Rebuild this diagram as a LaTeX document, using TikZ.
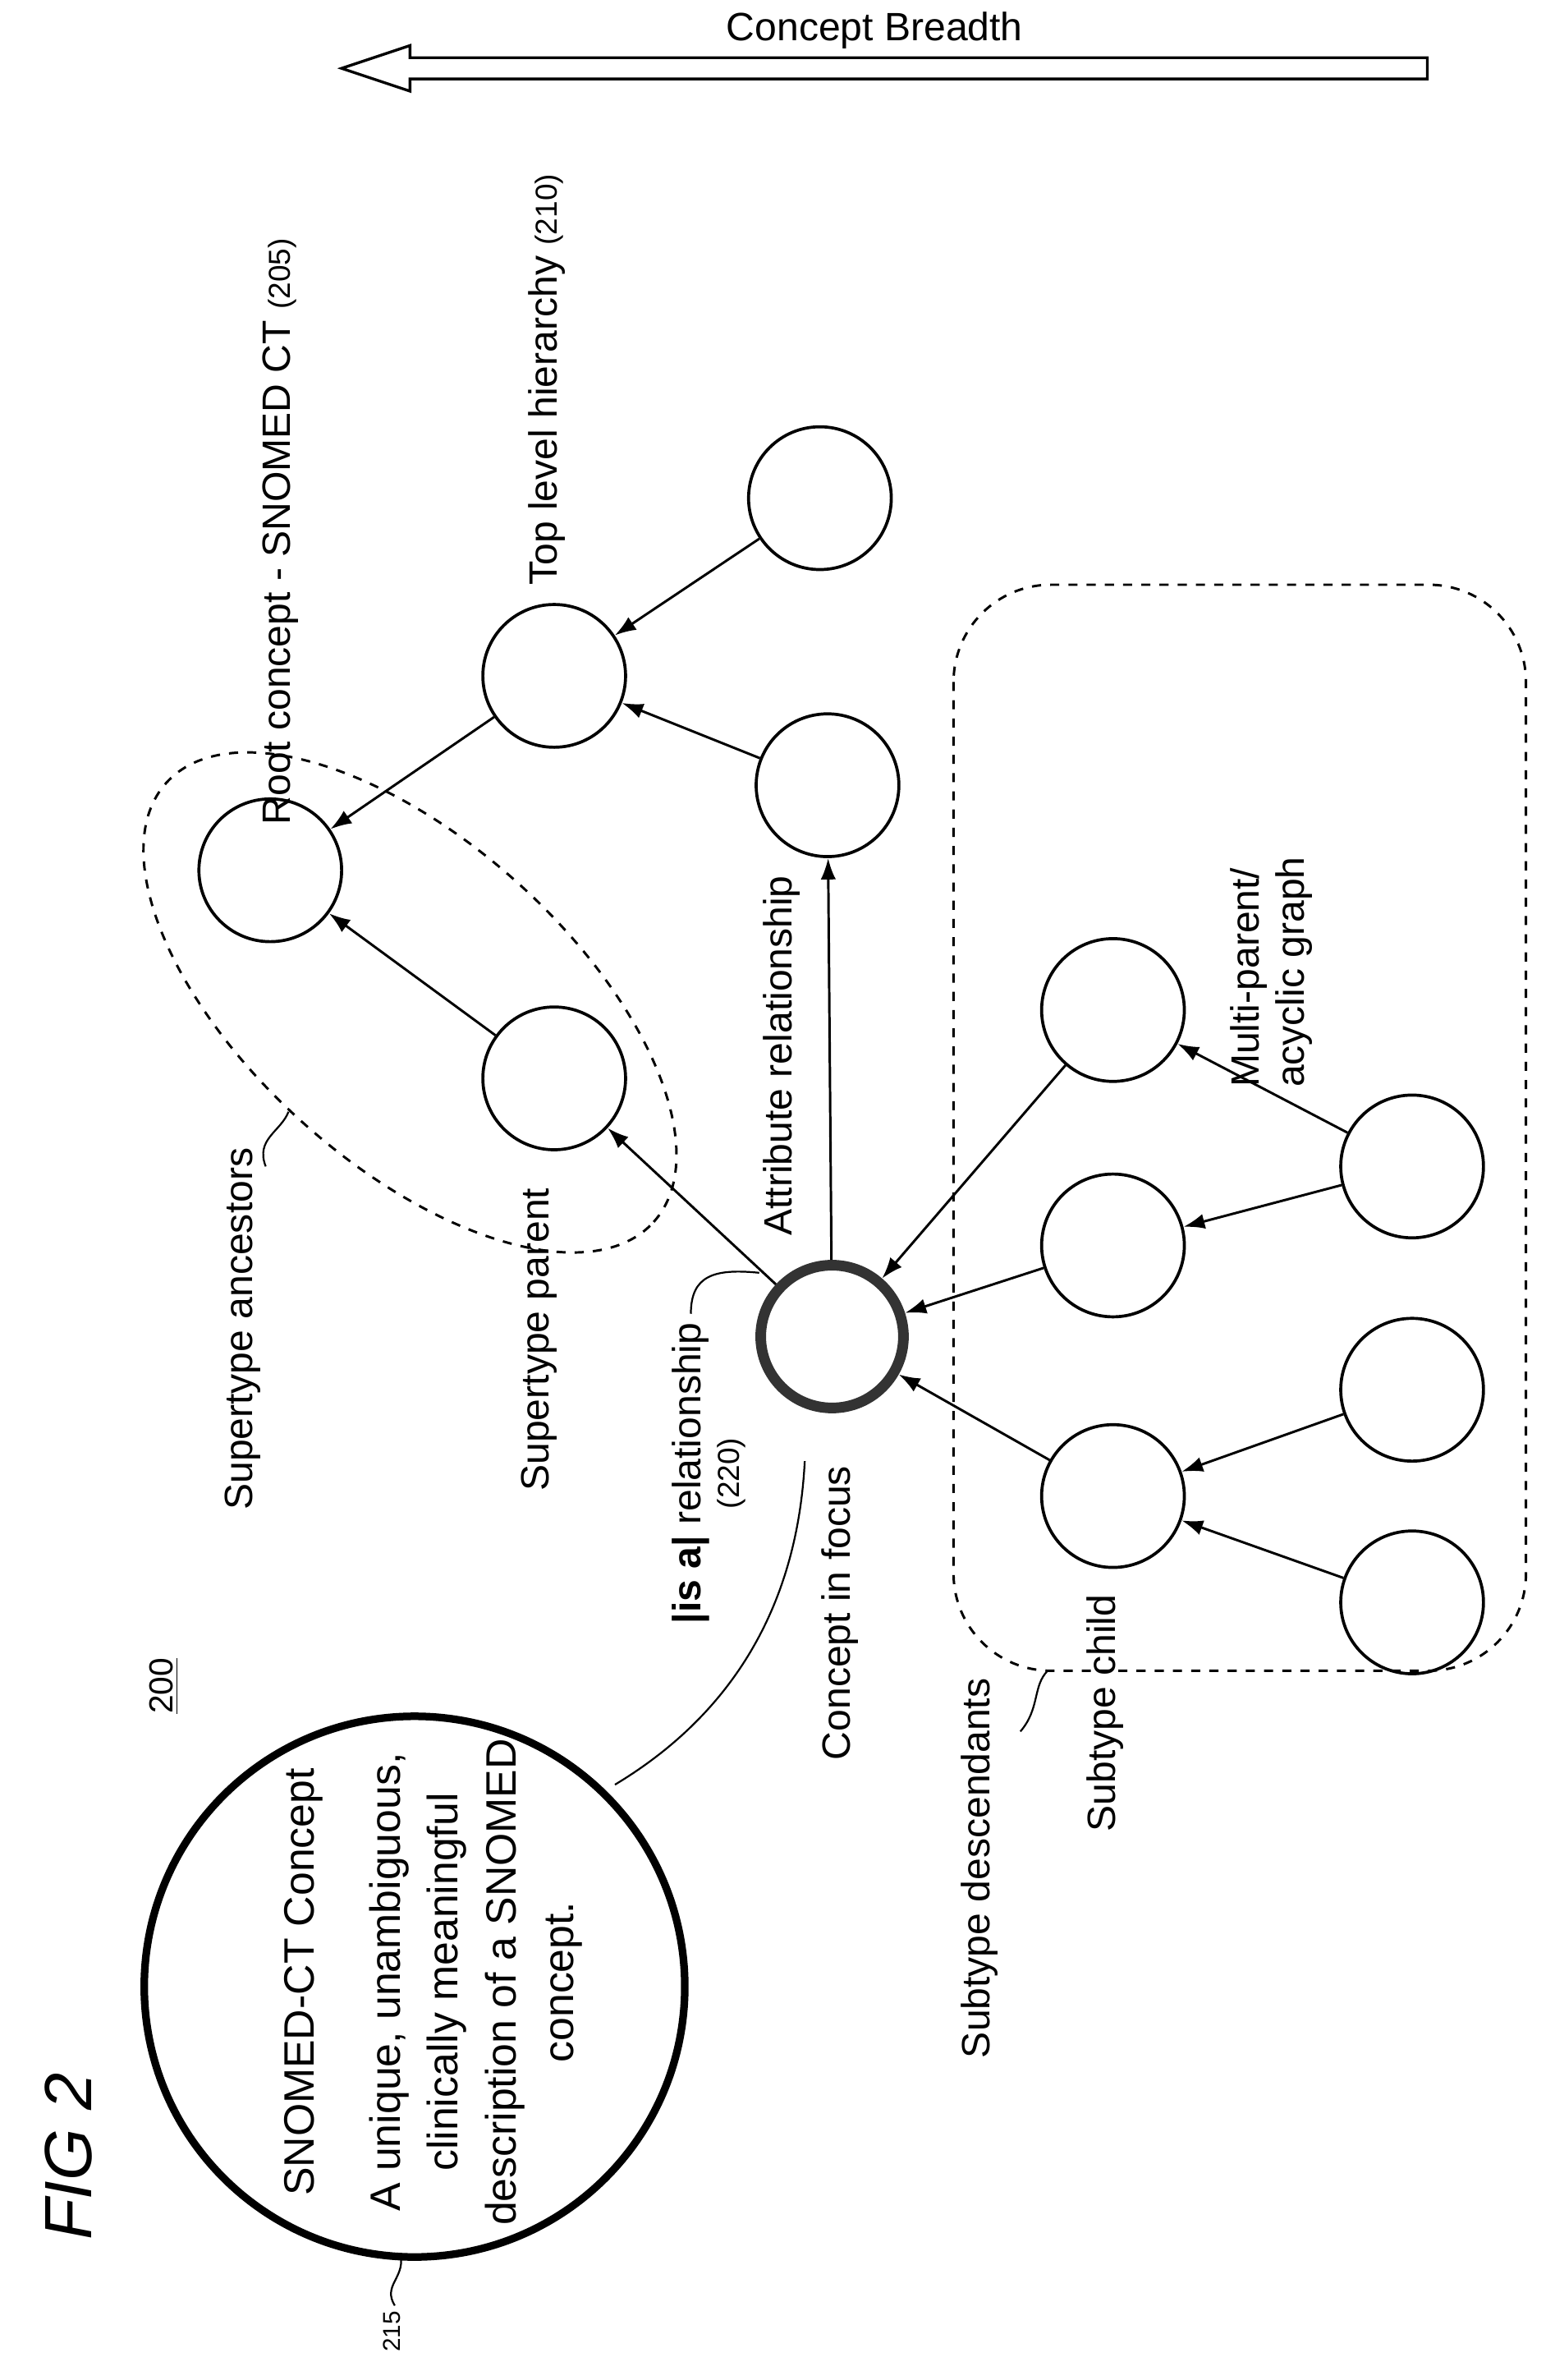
\documentclass[tikz,border=0pt]{standalone}
\usepackage{fontspec}
\setmainfont{Liberation Sans}
\usetikzlibrary{arrows.meta}
\begin{document}
\begin{tikzpicture}[x=0.5pt,y=-0.5pt,>={Latex[length=7pt,width=5pt]},
  node distance=3cm, thick,
  concept/.style={circle,draw,line width=1pt,minimum size=47pt,inner sep=0pt},
  lbl/.style={rotate=90,font=\fontsize{13}{15}\selectfont,inner sep=1pt},
  big text/.style={rotate=90,font=\fontsize{14}{19}\selectfont,inner sep=1pt},
  link/.style={->,line width=0.8pt}]
\useasboundingbox (0,0) rectangle (1024,1567);
% concepts
\node [concept](root) at (178,573) {};
\node [concept](top) at (365,445) {};
\node [concept](topr) at (540,328) {};
\node [concept](attr) at (545,517) {};
\node [concept](par) at (365,710) {};
\node [concept,line width=3.5pt,draw=black!80](focus) at (548,880) {};
\node [concept](multi) at (733,665) {};
\node [concept](sub2) at (733,820) {};
\node [concept](child) at (733,985) {};
\node [concept](r1) at (930,768) {};
\node [concept](r2) at (930,915) {};
\node [concept](r3) at (930,1055) {};
\node [circle,draw,line width=2.5pt,minimum size=178pt](big) at (273,1308) {};
% is-a links
\draw [link] (top) -- (root);
\draw [link] (topr) -- (top);
\draw [link] (attr) -- (top);
\draw [link] (par) -- (root);
\draw [link] (focus) -- (par);
\draw [link] (focus) -- (attr);
\draw [link] (multi) -- (focus);
\draw [link] (sub2) -- (focus);
\draw [link] (child) -- (focus);
\draw [link] (r1) -- (multi);
\draw [link] (r1) -- (sub2);
\draw [link] (r2) -- (child);
\draw [link] (r3) -- (child);
% groups
\draw [dashed,line width=0.8pt,rotate around={-42:(270,660)}] (270,660) ellipse (108pt and 53pt);
\draw [dashed,line width=0.8pt,rounded corners=32pt] (628,385) rectangle (1005,1100);
% breadth arrow
\draw [line width=0.9pt] (940,38) -- (270,38) -- (270,30) -- (225,45) -- (270,60) -- (270,52) -- (940,52) -- cycle;
\node [font=\fontsize{13}{15}\selectfont](breadth) at (576,20) {Concept Breadth};
% labels
\node [rotate=90,font=\fontsize{22}{24}\itshape\rmfamily\selectfont](fig) at (45,1420) {FIG 2};
\node [lbl,font=\fontsize{8}{10}\selectfont](n215) at (258,1535) {215};
\draw [line width=0.6pt] (260,1518) .. controls (252,1505) and (266,1500) .. (264,1486);
\node [big text](bigt) at (200,1305) {SNOMED-CT Concept};
\node [big text](bigd) at (313,1305) {\begin{tabular}{c}A unique, unambiguous,\\clinically meaningful\\description of a SNOMED\\concept.\end{tabular}};
\node [rotate=90,font=\fontsize{11}{13}\selectfont](n200) at (108,1110) {\underline{200}};
\node [lbl](anc) at (160,875) {Supertype ancestors};
\draw [line width=0.6pt] (175,768) .. controls (168,750) and (185,745) .. (190,732);
\node [lbl](rootl) at (185,350) {Root concept - SNOMED CT {\fontsize{10}{12}\selectfont(205)}};
\node [lbl](topl) at (360,250) {Top level hierarchy {\fontsize{10}{12}\selectfont(210)}};
\node [lbl](parl) at (355,882) {Supertype parent};
\node [lbl](attrl) at (515,695) {Attribute relationship};
\node [lbl](isal) at (455,970) {\textbf{|is a|} relationship};
\node [lbl,font=\fontsize{10}{12}\selectfont](n220) at (482,970) {(220)};
\draw [line width=0.6pt] (455,865) .. controls (455,840) and (470,835) .. (500,838);
\node [lbl](focusl) at (553,1062) {Concept in focus};
\draw [line width=0.6pt] (405,1175) .. controls (480,1130) and (525,1060) .. (530,962);
\node [lbl](descl) at (645,1230) {Subtype descendants};
\draw [line width=0.6pt] (672,1140) .. controls (685,1125) and (680,1110) .. (690,1100);
\node [lbl](childl) at (728,1128) {Subtype child};
\node [lbl](multil) at (838,640) {\begin{tabular}{l}Multi-parent/\\acyclic graph\end{tabular}};
\end{tikzpicture}
\end{document}
